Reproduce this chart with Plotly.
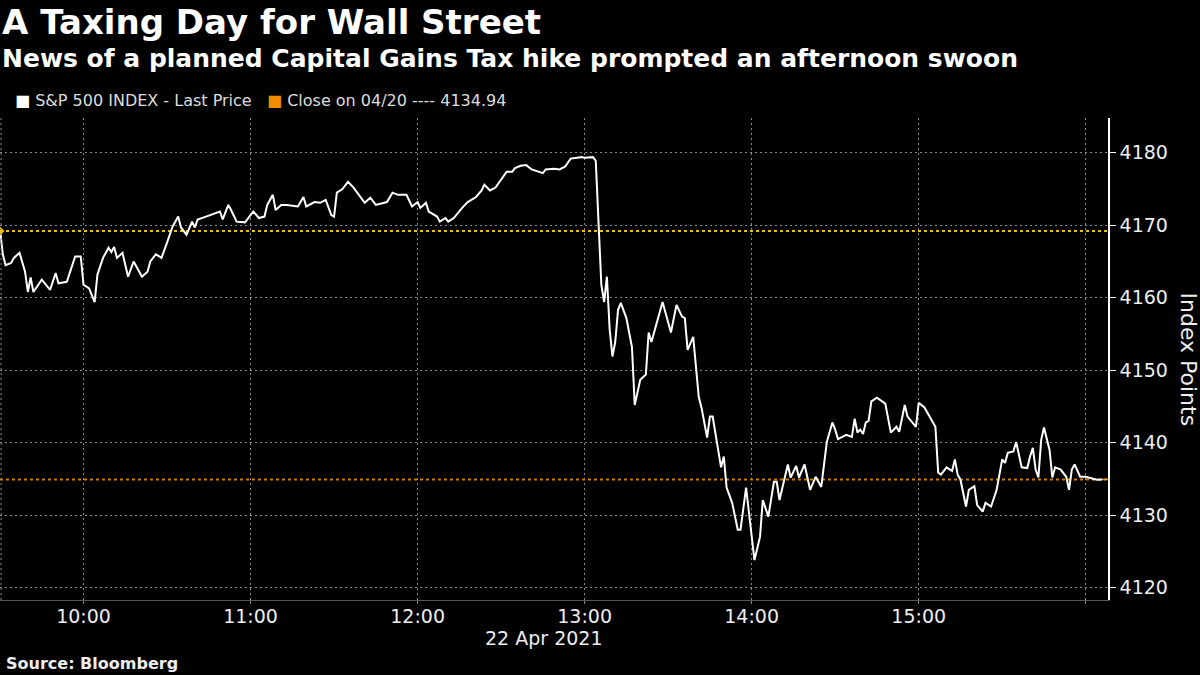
import pandas as pd
import plotly.graph_objects as go

# minutes after 09:30 and S&P 500 last price
minutes = [0, 1, 2, 4, 5, 7, 9, 10, 11, 12, 15, 18, 20, 21, 24, 27, 29, 30, 32, 34, 35, 37, 39, 40, 41, 42, 44, 46, 48, 51,
           53, 54, 56, 58, 60, 62, 64, 65, 67, 69, 70, 71, 74, 79, 80, 82, 83, 85, 88, 91, 93, 95, 96, 98, 99, 101, 103, 107,
           109, 110, 113, 115, 117, 119, 120, 121, 123, 125, 127, 129, 131, 133, 135, 139, 141, 143, 146, 148, 150, 151, 153,
           154, 157, 158, 160, 161, 163, 166, 168, 171, 173, 174, 176, 178, 180, 182, 184, 185, 187, 189, 191, 193, 195, 196,
           199, 201, 203, 205, 209, 210, 213, 214, 215, 216, 217, 218, 219, 220, 221, 222, 223, 225, 227, 228, 230, 232, 233,
           234, 238, 240, 241, 243, 245, 246, 247, 249, 251, 252, 254, 255, 256, 259, 260, 261, 263, 265, 266, 268, 270, 271,
           273, 274, 276, 278, 279, 280, 283, 284, 286, 287, 289, 291, 293, 295, 297, 299, 300, 301, 304, 306, 307, 308, 309,
           310, 311, 312, 313, 315, 318, 319, 320, 322, 323, 325, 326, 329, 330, 332, 335, 336, 337, 338, 340, 342, 343, 344,
           345, 346, 347, 348, 350, 351, 353, 354, 356, 358, 360, 361, 362, 364, 365, 367, 369, 370, 371, 372, 373, 374, 375,
           377, 378, 379, 381, 383, 384, 385, 386, 388, 390, 394, 396]
prices = [4169.5, 4166, 4164.5, 4164.8, 4165.5, 4166.2, 4163.6, 4160.8, 4162.8, 4160.8, 4162.5, 4161.1, 4163.4, 4162, 4162.2,
          4165.7, 4165.7, 4161.8, 4161.3, 4159.4, 4163.2, 4165.5, 4166.9, 4166.3, 4167, 4165.5, 4166.2, 4162.9, 4165, 4162.9,
          4163.6, 4165, 4166, 4165.5, 4167.6, 4169.8, 4171.2, 4169.7, 4168.7, 4170.5, 4169.7, 4170.8, 4171.2, 4171.9, 4170.8,
          4172.8, 4172.1, 4170.5, 4170.4, 4171.9, 4171, 4171.2, 4172.8, 4174.2, 4172.1, 4172.8, 4172.8, 4172.6, 4173.9, 4172.6,
          4173.2, 4173.1, 4173.5, 4171.4, 4171.2, 4174.5, 4175, 4176, 4175.2, 4174.2, 4173.1, 4173.8, 4172.8, 4173.2, 4174.5,
          4174.2, 4174.2, 4172.6, 4173.2, 4172.4, 4173.1, 4171.9, 4171.2, 4170.5, 4171, 4170.5, 4171, 4172.4, 4173.2, 4173.9,
          4174.8, 4175.6, 4174.8, 4175.2, 4176.3, 4177.4, 4177.4, 4177.9, 4178.2, 4178.3, 4177.7, 4177.4, 4177.2, 4177.7,
          4177.8, 4177.7, 4178.1, 4179.2, 4179.4, 4179.3, 4179.4, 4178.9, 4169.4, 4161.8, 4159.4, 4162.9, 4155.6, 4151.9,
          4153.9, 4158.3, 4159.3, 4157.2, 4153.2, 4145.2, 4148.7, 4149.4, 4155.2, 4153.9, 4159.4, 4156.6, 4155.2, 4159,
          4157.4, 4157.2, 4152.8, 4154.6, 4146.3, 4144.8, 4140.7, 4143.6, 4143.6, 4136.6, 4138.1, 4133.8, 4131.7, 4128,
          4128, 4133.8, 4127, 4123.8, 4127, 4132.1, 4129.8, 4134.6, 4134.6, 4132.1, 4137, 4135.2, 4136.8, 4135.2, 4137,
          4133.5, 4135.3, 4133.9, 4140.1, 4142.8, 4141.8, 4140.5, 4141.1, 4140.8, 4143.3, 4141.4, 4141.8, 4141.2, 4142.8,
          4143, 4145.7, 4146.2, 4145.4, 4143.3, 4141.4, 4142.2, 4141.5, 4145.2, 4143.6, 4142.2, 4145.5, 4144.9, 4142.8,
          4142.2, 4135.9, 4135.6, 4136.6, 4136.1, 4137.7, 4135.6, 4134.9, 4133.1, 4131.2, 4133.5, 4134, 4131.4, 4130.5,
          4131.7, 4131.2, 4133.5, 4137.7, 4137.2, 4138.6, 4138.8, 4140.1, 4136.6, 4136.5, 4138.1, 4139.3, 4136.3, 4135.2,
          4140.4, 4142.1, 4139, 4135.2, 4136.6, 4136.3, 4135.3, 4133.5, 4136.3, 4137, 4135.3, 4135.3, 4134.9, 4134.94]

open_ref = 4169.2
close_0420 = 4134.94
y_ticks = [4120, 4130, 4140, 4150, 4160, 4170, 4180]
x_ticks = ["10:00", "11:00", "12:00", "13:00", "14:00", "15:00", "16:00"]
x_labels = ["10:00", "11:00", "12:00", "13:00", "14:00", "15:00", ""]

day = pd.Timestamp("2021-04-22 09:30")
times = [day + pd.Timedelta(minutes=m) for m in minutes]
x_start = day
x_end = day + pd.Timedelta(minutes=398)

fig = go.Figure()
fig.add_trace(go.Scatter(x=[x_start, x_end], y=[open_ref, open_ref], mode="lines",
                         line=dict(color="#e6c200", width=2, dash="dot"), hoverinfo="skip"))
fig.add_trace(go.Scatter(x=[x_start, x_end], y=[close_0420, close_0420], mode="lines",
                         line=dict(color="#c97f00", width=2, dash="dot"), hoverinfo="skip"))
fig.add_trace(go.Scatter(x=[times[-1], x_end], y=[close_0420, close_0420], mode="lines",
                         line=dict(color="#f0a020", width=1.5), hoverinfo="skip"))
fig.add_trace(go.Scatter(x=times, y=prices, mode="lines", line=dict(color="white", width=2)))
fig.add_trace(go.Scatter(x=[x_start], y=[open_ref], mode="markers",
                         marker=dict(color="#e6c200", size=7, symbol="diamond"), cliponaxis=False))

grid = dict(showgrid=True, gridcolor="#8a8a8a", griddash="2px,3px", gridwidth=1, zeroline=False)

fig.update_layout(
    width=1200, height=675, paper_bgcolor="black", plot_bgcolor="black",
    margin=dict(l=0, r=92, t=118, b=75), showlegend=False,
    font=dict(family="DejaVu Sans", color="white"),
)
fig.update_xaxes(
    range=[x_start, x_end],
    tickvals=[pd.Timestamp("2021-04-22 " + t) for t in x_ticks], ticktext=x_labels,
    ticks="outside", ticklen=3, tickcolor="#888", tickfont=dict(size=19, color="#eee"),
    ticklabelstandoff=-4,
    showline=True, linecolor="#555", **grid,
)
fig.update_yaxes(
    range=[4118.3, 4184.8], side="right", tickvals=y_ticks,
    ticks="outside", ticklen=6, tickcolor="white", tickfont=dict(size=19, color="#eee"),
    showline=True, linecolor="white", linewidth=1.5, **grid,
)
# left edge dashed line
fig.add_shape(type="line", xref="paper", yref="paper", x0=0.001, x1=0.001, y0=0, y1=1,
              line=dict(color="#8a8a8a", width=1, dash="2px,3px"))

fig.add_annotation(text="Index Points", x=1, y=0.5, xref="paper", yref="paper", textangle=90,
                   xanchor="left", yanchor="middle", showarrow=False, xshift=66,
                   font=dict(size=22, color="#eee"))
fig.add_annotation(text="<b>A Taxing Day for Wall Street</b>", x=0, y=1, xref="paper", yref="paper",
                   xanchor="left", yanchor="top", showarrow=False, yshift=118,
                   font=dict(size=34, color="white", family="DejaVu Sans"))
fig.add_annotation(text="<b>News of a planned Capital Gains Tax hike prompted an afternoon swoon</b>",
                   x=0, y=1, xref="paper", yref="paper", xanchor="left", yanchor="top", showarrow=False,
                   yshift=118 - 42, font=dict(size=25, color="white", family="DejaVu Sans"))
fig.add_annotation(text="<span style='color:white'>■</span> S&P 500 INDEX - Last Price"
                        "   <span style='color:#f08c00'>■</span> Close on 04/20 ---- 4134.94",
                   x=0.012, y=1, xref="paper", yref="paper", xanchor="left", yanchor="top", showarrow=False,
                   yshift=118 - 89, font=dict(size=16, color="#ddd", family="DejaVu Sans"))
fig.add_annotation(text="22 Apr 2021", x=543 / 1108, y=0, xref="paper", yref="paper",
                   xanchor="center", yanchor="top", showarrow=False, yshift=-25,
                   font=dict(size=19, color="#eee"))
fig.add_annotation(text="<b>Source: Bloomberg</b>", x=0.004, y=0, xref="paper", yref="paper",
                   xanchor="left", yanchor="top", showarrow=False, yshift=-52,
                   font=dict(size=16, color="#eee"))

fig.write_html("out.html", config={"displayModeBar": False},
               post_script="document.body.style.margin='0';")
